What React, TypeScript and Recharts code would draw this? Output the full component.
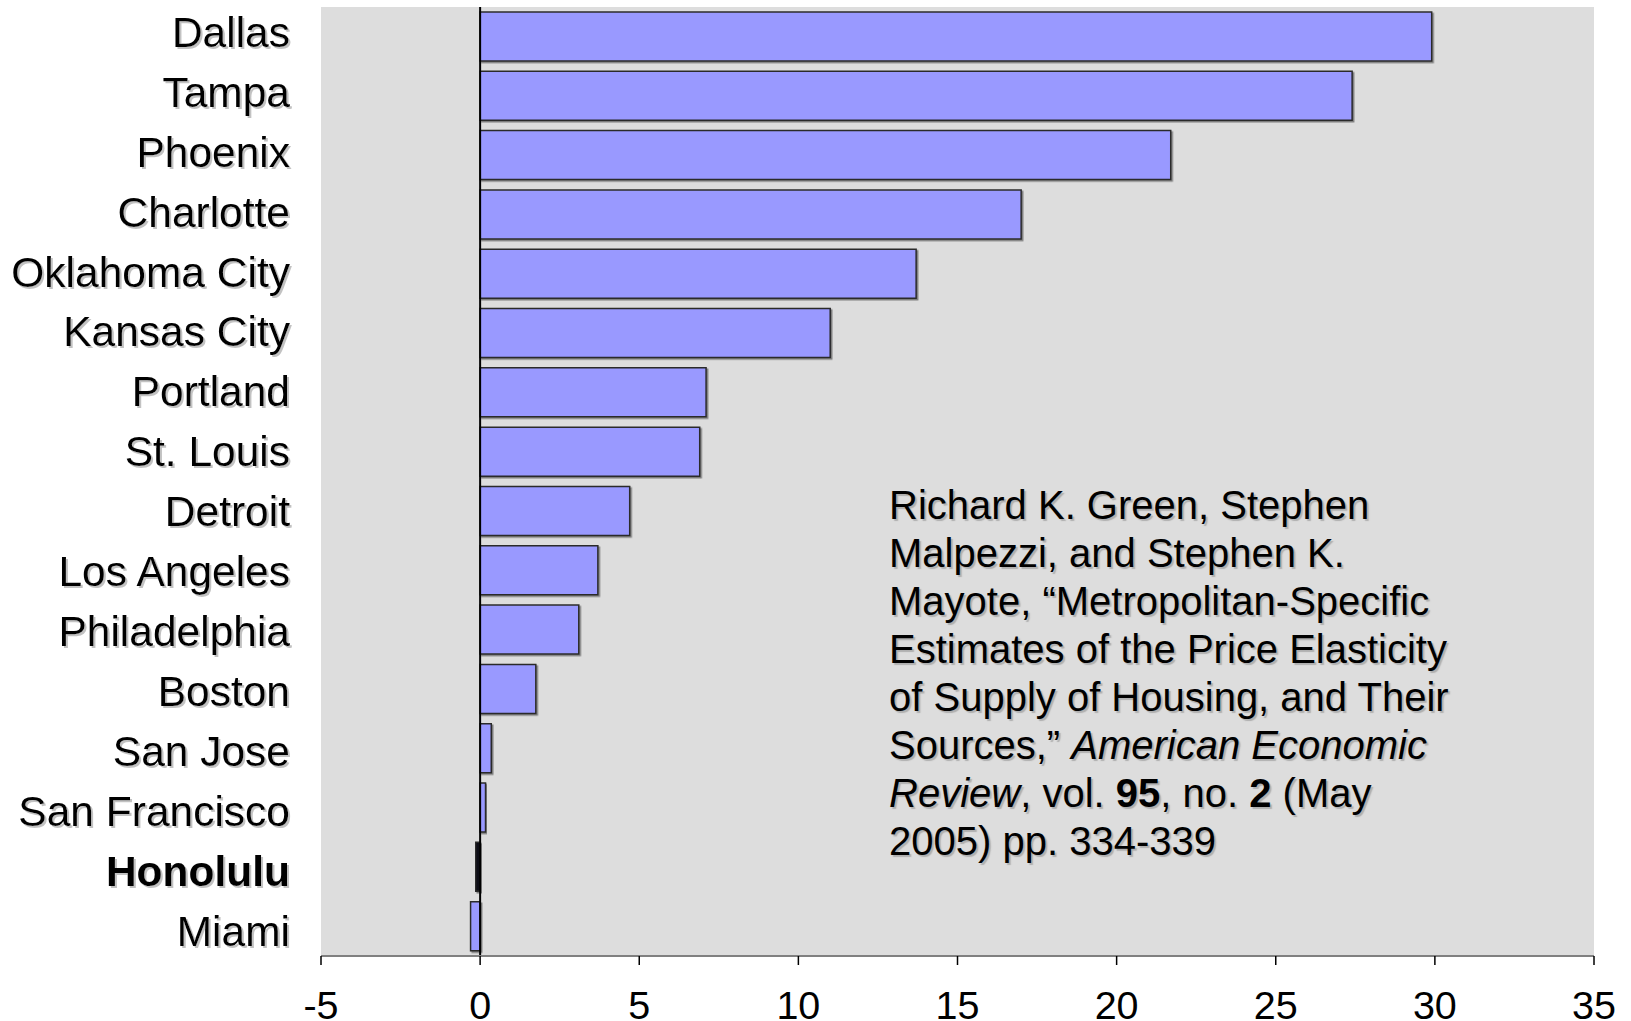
import React from "react";
import { BarChart, Bar, XAxis, YAxis, CartesianGrid, ReferenceLine, Cell } from "recharts";

// Metro areas, top to bottom
const cities = [
  "Dallas",
  "Tampa",
  "Phoenix",
  "Charlotte",
  "Oklahoma City",
  "Kansas City",
  "Portland",
  "St. Louis",
  "Detroit",
  "Los Angeles",
  "Philadelphia",
  "Boston",
  "San Jose",
  "San Francisco",
  "Honolulu",
  "Miami",
];

// Price elasticity of housing supply
const elasticity = [
  29.9, 27.4, 21.7, 17.0, 13.7, 11.0, 7.1, 6.9, 4.7, 3.7, 3.1, 1.75, 0.35, 0.17, -0.14, -0.3,
];

const xTicks = [-5, 0, 5, 10, 15, 20, 25, 30, 35];

const highlighted = "Honolulu";

const data = cities.map((city, i) => ({ city, value: elasticity[i] }));

const FONT = "'Liberation Sans', Arial, Helvetica, sans-serif";

// Category labels sit on slightly wider rows than the bars themselves
const LABEL_ROW_SPREAD = 0.65;

const CityTick = (props: any) => {
  const { x, y, payload, index } = props;
  const bold = payload.value === highlighted;
  const nudge = (index ?? 0) * LABEL_ROW_SPREAD - 1;
  return (
    <text
      x={x}
      y={y + nudge}
      dy={11}
      textAnchor="end"
      fontFamily={FONT}
      fontSize={42.5}
      fontWeight={bold ? 700 : 400}
      fill="#000"
      filter="url(#textShadow)"
    >
      {payload.value}
    </text>
  );
};

const ValueTick = (props: any) => {
  const { x, y, payload } = props;
  return (
    <text x={x} y={y} dy={54} textAnchor="middle" fontFamily={FONT} fontSize={39.5} fill="#000">
      {payload.value}
    </text>
  );
};

export default function App() {
  return (
    <div style={{ position: "absolute", left: 0, top: 0, width: 1631, height: 1021, background: "#fff" }}>
      <svg width={0} height={0} style={{ position: "absolute" }}>
        <defs>
          <filter id="textShadow" x="-10%" y="-30%" width="130%" height="170%">
            <feDropShadow dx={2} dy={2} stdDeviation={0.6} floodColor="#a8a8a8" floodOpacity={0.7} />
          </filter>
          <filter id="barShadow" x="-10%" y="-10%" width="130%" height="130%">
            <feDropShadow dx={1.5} dy={1.5} stdDeviation={0.4} floodColor="#555" floodOpacity={0.7} />
          </filter>
        </defs>
      </svg>
      <BarChart
        width={1631}
        height={1021}
        data={data}
        layout="vertical"
        margin={{ top: 7, right: 37, bottom: 0, left: 0 }}
        barCategoryGap="8.4%"
      >
        <CartesianGrid fill="#DDDDDD" stroke="none" horizontal={false} vertical={false} />
        <XAxis
          type="number"
          domain={[-5, 35]}
          ticks={xTicks}
          interval={0}
          height={65}
          axisLine={{ stroke: "#808080", strokeWidth: 2 }}
          tickLine={{ stroke: "#000", strokeWidth: 1.5 }}
          tickSize={9}
          tickMargin={0}
          tick={<ValueTick />}
          allowDataOverflow
        />
        <YAxis
          type="category"
          dataKey="city"
          width={321}
          axisLine={false}
          tickLine={false}
          tickSize={0}
          tickMargin={31}
          interval={0}
          tick={<CityTick />}
        />
        <Bar
          dataKey="value"
          isAnimationActive={false}
          fill="#9999FF"
          stroke="#2b2b2b"
          strokeWidth={1.5}
          filter="url(#barShadow)"
        >
          {data.map((d) => (
            <Cell
              key={d.city}
              fill={d.city === highlighted ? "#0a0a14" : "#9999FF"}
              stroke="#2b2b2b"
            />
          ))}
        </Bar>
        <ReferenceLine x={0} stroke="#000" strokeWidth={2} />
      </BarChart>
      <div
        style={{
          position: "absolute",
          left: 889,
          top: 481,
          width: 720,
          fontFamily: FONT,
          fontSize: 40,
          lineHeight: "48px",
          color: "#000",
          textShadow: "2px 2px 1px rgba(160,160,160,0.75)",
          whiteSpace: "nowrap",
        }}
      >
        Richard K. Green, Stephen
        <br />
        Malpezzi, and Stephen K.
        <br />
        Mayote, “Metropolitan-Specific
        <br />
        Estimates of the Price Elasticity
        <br />
        of Supply of Housing, and Their
        <br />
        Sources,” <i>American Economic</i>
        <br />
        <i>Review</i>, vol. <b>95</b>, no. <b>2</b> (May
        <br />
        2005) pp. 334-339
      </div>
    </div>
  );
}
